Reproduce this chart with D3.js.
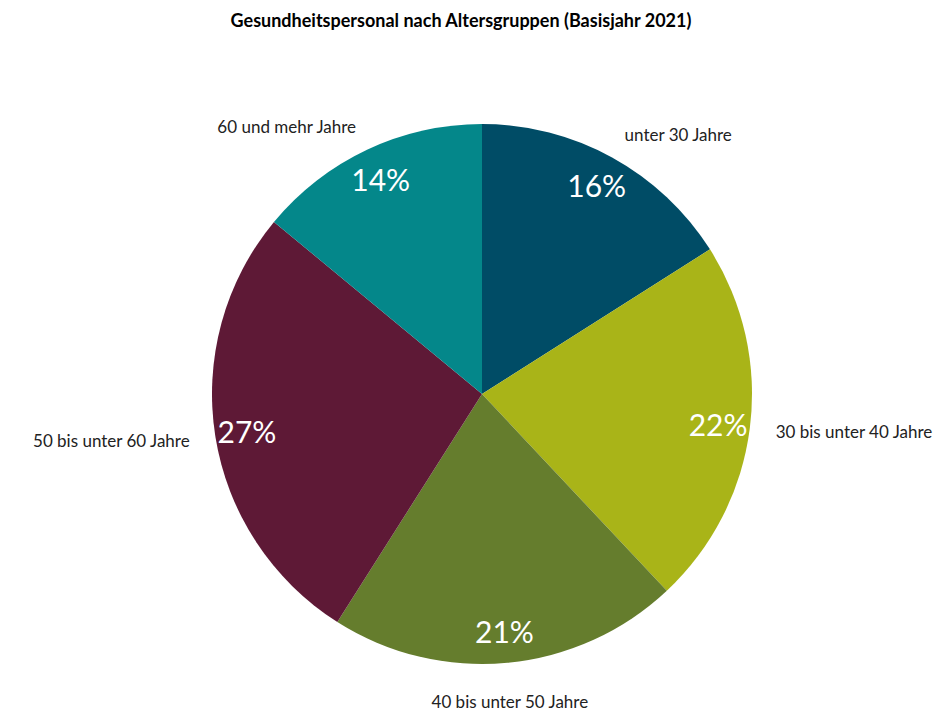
<!DOCTYPE html>
<html lang="de">
<head>
<meta charset="utf-8">
<title>Gesundheitspersonal nach Altersgruppen</title>
<script src="https://cdn.jsdelivr.net/npm/d3@7"></script>
<style>
  html, body { margin: 0; padding: 0; background: #ffffff; }
  svg { display: block; font-family: Lato, "Open Sans", "Liberation Sans", sans-serif; }
</style>
</head>
<body>
<svg id="chart" width="935" height="713"></svg>
<script>
// Age groups of health personnel, base year 2021 (share in percent)
const categories = [
  "unter 30 Jahre",
  "30 bis unter 40 Jahre",
  "40 bis unter 50 Jahre",
  "50 bis unter 60 Jahre",
  "60 und mehr Jahre"
];
const shares = [16, 22, 21, 27, 14];
const sliceColors = ["#004c66", "#a9b418", "#657d2d", "#5e1936", "#04878a"];
const chartTitle = "Gesundheitspersonal nach Altersgruppen (Basisjahr 2021)";

const width = 935, height = 713;
const cx = 482, cy = 394, radius = 270;

const data = categories.map((c, i) => ({ category: c, value: shares[i], color: sliceColors[i] }));

const svg = d3.select("#chart");

svg.append("text")
  .attr("x", 461)
  .attr("y", 27)
  .attr("text-anchor", "middle")
  .attr("font-size", 18)
  .attr("font-weight", 700)
  .attr("fill", "#000")
  .text(chartTitle);

const pie = d3.pie().value(d => d.value).sort(null);
const arcs = pie(data);

const arc = d3.arc().innerRadius(0).outerRadius(radius);
const valueArc = d3.arc().innerRadius(238).outerRadius(238);

const g = svg.append("g").attr("transform", `translate(${cx},${cy})`);

g.selectAll("path.slice")
  .data(arcs)
  .join("path")
  .attr("class", "slice")
  .attr("d", arc)
  .attr("fill", d => d.data.color);

// percentage labels near the outer rim
g.selectAll("text.value")
  .data(arcs)
  .join("text")
  .attr("class", "value")
  .attr("transform", d => `translate(${valueArc.centroid(d)})`)
  .attr("text-anchor", "middle")
  .attr("dominant-baseline", "central")
  .attr("font-size", 30)
  .attr("fill", "#ffffff")
  .text(d => d3.format(".0f")(d.value) + "%");

// category labels outside the pie
const catR = radius + 26;
g.selectAll("text.cat")
  .data(arcs)
  .join("text")
  .attr("class", "cat")
  .each(function(d) {
    const a = (d.startAngle + d.endAngle) / 2;
    const s = Math.sin(a), c = Math.cos(a);
    const x = catR * s, y = -catR * c;
    const anchor = s > 0.3 ? "start" : (s < -0.3 ? "end" : "middle");
    d3.select(this)
      .attr("x", x)
      .attr("y", y + (c < -0.8 ? 13 : 0))
      .attr("text-anchor", anchor)
      .attr("dominant-baseline", "central");
  })
  .attr("font-size", 17)
  .attr("fill", "#222")
  .text(d => d.data.category);
</script>
</body>
</html>
